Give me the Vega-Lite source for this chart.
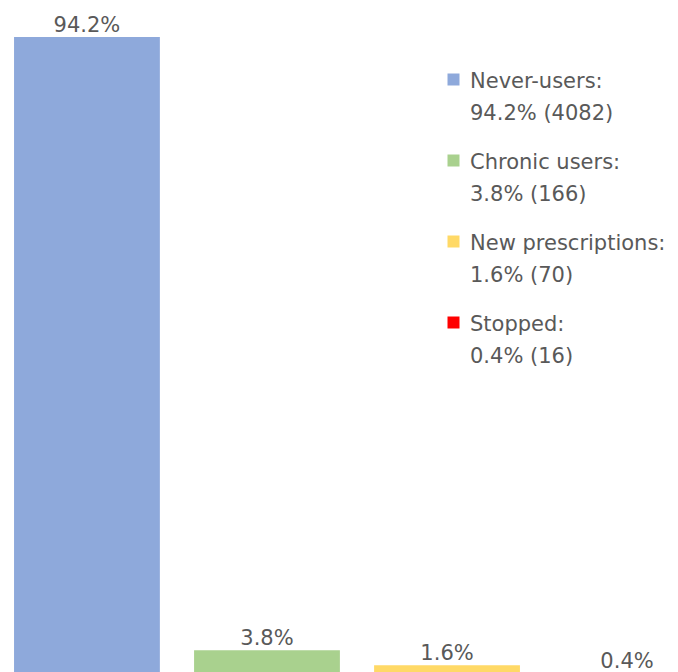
{
  "$schema": "https://vega.github.io/schema/vega-lite/v6.json",
  "width": 678,
  "height": 672,
  "padding": 0,
  "autosize": {"type": "none"},
  "background": "white",
  "config": {"view": {"stroke": null}, "font": "DejaVu Sans", "style": {"guide-label": {"lineHeight": 32, "dy": -9}}},
  "data": {"values": [
    {"group": "Never-users", "pct": 94.2, "label": "94.2%", "legend": "Never-users:|94.2% (4082)"},
    {"group": "Chronic users", "pct": 3.8, "label": "3.8%", "legend": "Chronic users:|3.8% (166)"},
    {"group": "New prescriptions", "pct": 1.6, "label": "1.6%", "legend": "New prescriptions:|1.6% (70)"},
    {"group": "Stopped", "pct": 0.4, "label": "0.4%", "legend": "Stopped:|0.4% (16)"}
  ]},
  "encoding": {
    "x": {"field": "group", "type": "nominal", "sort": null, "axis": null,
      "scale": {"range": [0, 714], "paddingInner": 0.19, "paddingOuter": 0.078}},
    "y": {"field": "pct", "type": "quantitative", "axis": null,
      "scale": {"domain": [0.59, 99.66], "zero": false, "nice": false}}
  },
  "layer": [
    {
      "mark": {"type": "bar", "clip": true},
      "encoding": {
        "y2": {"datum": 0},
        "color": {"field": "legend", "type": "nominal", "sort": null,
          "scale": {"domain": ["Never-users:|94.2% (4082)", "Chronic users:|3.8% (166)", "New prescriptions:|1.6% (70)", "Stopped:|0.4% (16)"],
                    "range": ["#8EA9DB", "#A9D18E", "#FFD966", "#FF0000"]},
          "legend": {"title": null, "orient": "none", "legendX": 443, "legendY": 69,
            "labelExpr": "split(datum.label, '|')", "labelFontSize": 21, "labelColor": "#595959",
            "labelFont": "DejaVu Sans", "labelLimit": 300,
            "symbolType": "square", "symbolSize": 144, "symbolStrokeWidth": 0,
            "rowPadding": 26, "labelOffset": 6, "labelBaseline": "top", "symbolOffset": 0}}
      }
    },
    {
      "mark": {"type": "text", "baseline": "alphabetic", "dy": -5, "fontSize": 21, "color": "#595959", "font": "DejaVu Sans"},
      "encoding": {"text": {"field": "label"}}
    }
  ]
}
